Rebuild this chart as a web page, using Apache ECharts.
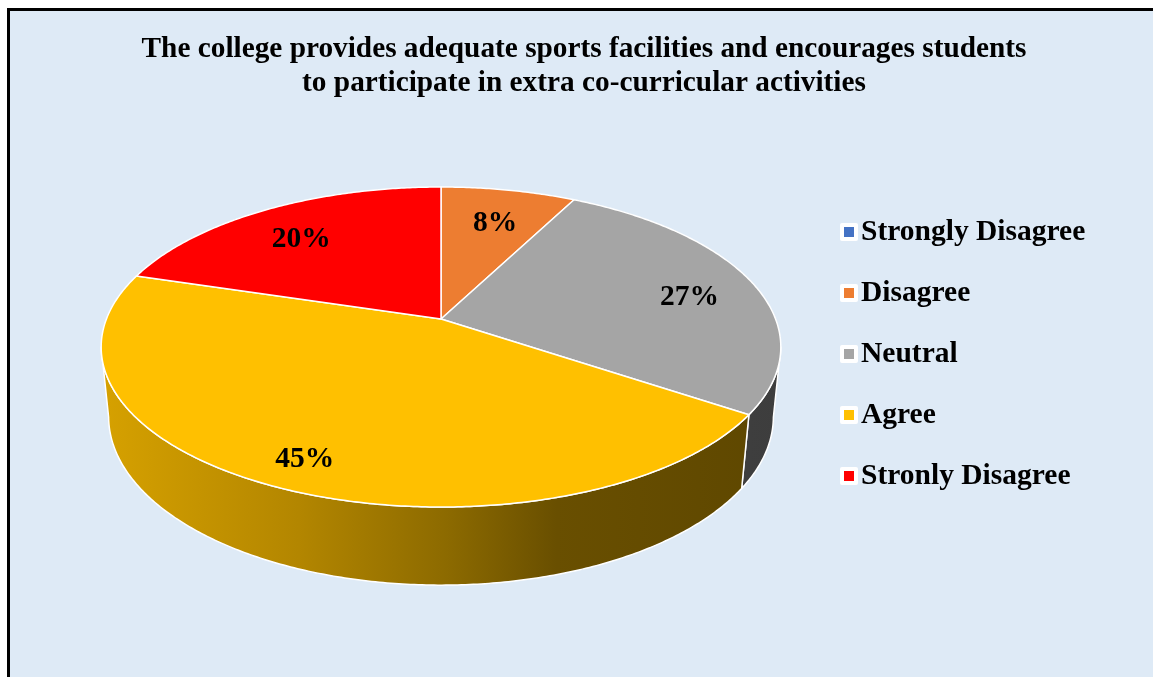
<!DOCTYPE html>
<html lang="en">
<head>
<meta charset="UTF-8" />
<title>Sports facilities survey</title>
<script src="https://cdn.jsdelivr.net/npm/echarts@6/dist/echarts.min.js"></script>
<style>
  html, body { margin: 0; padding: 0; overflow: hidden; background: #fff; }
  #frame { position: absolute; left: 7px; top: 8px; width: 1200px; height: 720px; border: 3px solid #000; background: #DEEAF6; }
  #main { position: absolute; left: 0; top: 0; width: 1168px; height: 677px; }
</style>
</head>
<body>
<div id="frame"></div>
<div id="main"></div>
<script>
// data (percent of responses; labels show them rounded)
var titleLines = [
    'The college provides adequate sports facilities and encourages students',
    'to participate in extra co-curricular activities'
];
var categories = ['Strongly Disagree', 'Disagree', 'Neutral', 'Agree', 'Stronly Disagree'];
var percents = [0, 7.6, 26.8, 45.3, 20.3];
var colors = ['#4472C4', '#ED7D31', '#A5A5A5', '#FFC000', '#FF0000'];

// 3d view of the pie (tilted disc, seen in perspective)
var view = { cx: 441, cy: 319, f: 1694, r: 0.1975, h: 0.0468, sin: 0.4636, cos: 0.886 };
var FONT_FAMILY = '"Liberation Serif", "Times New Roman", serif';
var FONT = 'bold 29.5px ' + FONT_FAMILY;
var TWO_PI = Math.PI * 2;

function project(angle, frac, down) {
    var X = frac * view.r * Math.sin(angle);
    var Z = frac * view.r * Math.cos(angle);
    var Y = -down * view.h;
    var yc = Z * view.sin + Y * view.cos;
    var depth = 1 + Z * view.cos - Y * view.sin;
    return [view.cx + view.f * X / depth, view.cy - view.f * yc / depth];
}

var total = percents.reduce(function (a, b) { return a + b; }, 0);
var starts = [];
var acc = 0;
percents.forEach(function (v) { starts.push(acc / total * TWO_PI); acc += v; });

// side wall is seen only between the two silhouette angles
var edge = Math.acos(-view.r * view.cos);
// centre of the drawn top ellipse (labels are placed from here)
var far = project(0, 1, 0), near = project(Math.PI, 1, 0);
var ellipseMid = [(far[0] + near[0]) / 2, (far[1] + near[1]) / 2];

function shade(hex, k) {
    var n = parseInt(hex.slice(1), 16);
    var r = Math.round(((n >> 16) & 255) * k);
    var g = Math.round(((n >> 8) & 255) * k);
    var b = Math.round((n & 255) * k);
    return 'rgb(' + r + ',' + g + ',' + b + ')';
}

function wallFill(hex) {
    return {
        type: 'linear', x: 102, y: 0, x2: 780, y2: 0, global: true,
        colorStops: [
            { offset: 0, color: shade(hex, 0.84) },
            { offset: 0.29, color: shade(hex, 0.70) },
            { offset: 0.51, color: shade(hex, 0.55) },
            { offset: 0.67, color: shade(hex, 0.41) },
            { offset: 1, color: shade(hex, 0.37) }
        ]
    };
}

function arcPoints(a0, a1, frac, down) {
    var pts = [];
    var n = Math.max(2, Math.ceil((a1 - a0) / 0.01));
    for (var j = 0; j <= n; j++) {
        pts.push(project(a0 + (a1 - a0) * j / n, frac, down));
    }
    return pts;
}

function renderWall(params, api) {
    var i = params.dataIndex;
    var a0 = starts[i];
    var a1 = a0 + api.value(0) / total * TWO_PI;
    var lo = Math.max(a0, edge), hi = Math.min(a1, TWO_PI - edge);
    if (hi <= lo) return { type: 'group', children: [] };
    var pts = arcPoints(lo, hi, 1, 0).concat(arcPoints(lo, hi, 1, 1).reverse());
    return {
        type: 'polygon',
        shape: { points: pts },
        style: { fill: wallFill(colors[i]), stroke: '#fff', lineWidth: 1.5, lineJoin: 'round' }
    };
}

function renderTop(params, api) {
    var i = params.dataIndex;
    var v = api.value(0);
    if (!v) return { type: 'group', children: [] };
    var a0 = starts[i];
    var a1 = a0 + v / total * TWO_PI;
    var pts = [project(0, 0, 0)].concat(arcPoints(a0, a1, 1, 0));
    var rim = project((a0 + a1) / 2, 1, 0);
    var lx = ellipseMid[0] + 0.8 * (rim[0] - ellipseMid[0]);
    var ly = ellipseMid[1] + 0.8 * (rim[1] - ellipseMid[1]);
    return {
        type: 'group',
        children: [
            {
                type: 'polygon',
                shape: { points: pts },
                style: { fill: colors[i], stroke: '#fff', lineWidth: 1.5, lineJoin: 'round' }
            },
            {
                type: 'text',
                z2: 100,
                style: {
                    text: Math.round(v / total * 100) + '%', x: lx, y: ly + 2,
                    font: FONT, fill: '#000', align: 'center', verticalAlign: 'middle'
                }
            }
        ]
    };
}

var myChart = echarts.init(document.getElementById('main'));
myChart.setOption({
    animation: false,
    backgroundColor: 'transparent',
    title: {
        text: titleLines.join('\n'),
        left: 'center',
        top: 32,
        padding: 0,
        textStyle: {
            fontFamily: FONT_FAMILY,
            fontWeight: 'bold',
            fontSize: 29.3,
            lineHeight: 34,
            color: '#000'
        }
    },
    legend: {
        orient: 'vertical',
        left: 840,
        top: 216,
        padding: 0,
        itemGap: 29,
        itemWidth: 14,
        itemHeight: 14,
        icon: 'rect',
        selectedMode: false,
        data: categories,
        itemStyle: { borderColor: '#fff', borderWidth: 4 },
        textStyle: {
            fontFamily: FONT_FAMILY,
            fontWeight: 'bold',
            fontSize: 29.5,
            lineHeight: 32,
            color: '#000'
        }
    },
    series: [
        {
            // only feeds the legend
            name: 'legend',
            type: 'pie',
            radius: 0,
            silent: true,
            label: { show: false },
            labelLine: { show: false },
            data: categories.map(function (c, i) {
                return { name: c, value: percents[i], itemStyle: { color: colors[i] } };
            })
        },
        {
            name: 'walls',
            type: 'custom',
            coordinateSystem: 'none',
            silent: true,
            z: 2,
            renderItem: renderWall,
            data: percents
        },
        {
            name: 'tops',
            type: 'custom',
            coordinateSystem: 'none',
            silent: true,
            z: 3,
            renderItem: renderTop,
            data: percents
        }
    ]
});
</script>
</body>
</html>
